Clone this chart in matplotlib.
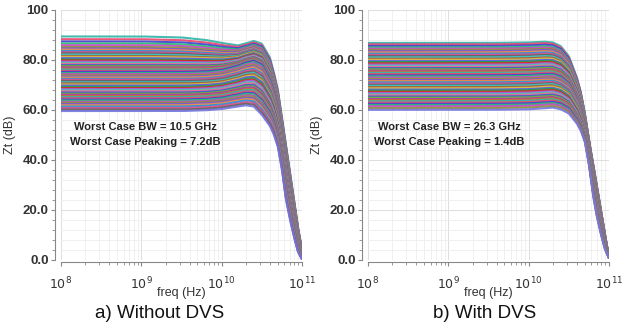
import numpy as np
import matplotlib
matplotlib.use("Agg")
import matplotlib.pyplot as plt
from matplotlib.ticker import FixedLocator, LogLocator, NullFormatter

plt.rcParams['font.family'] = ['Liberation Sans', 'DejaVu Sans']

# log10(frequency) nodes shared by the reference curves
log_f = [8.0, 9.0, 9.5, 9.8, 10.0, 10.2, 10.3, 10.4, 10.5, 10.6, 10.65, 10.7,
         10.75, 10.8, 10.85, 10.9, 10.95, 11.0]

# Panel a) Without DVS: reference curves (dB)
a_top = [89.4, 89.4, 89.0, 88.0, 86.8, 85.8, 86.6, 87.6, 86.5, 81.0, 75.0, 68.0,
         57.0, 46.0, 35.0, 24.0, 13.0, 4.0]
a_mid = [75.0, 75.0, 75.0, 75.2, 75.8, 77.5, 78.8, 79.5, 78.0, 72.0, 67.0, 60.0,
         50.0, 38.0, 28.0, 18.0, 9.0, 2.0]
a_bot = [59.5, 59.5, 59.5, 59.8, 60.3, 61.3, 61.8, 61.3, 58.0, 53.5, 50.0, 45.0,
         36.0, 24.0, 16.0, 9.0, 3.0, 0.0]
a_dc = [89.4, 88.3, 87.4, 86.6, 85.9, 85.2, 84.6, 84.1, 83.6, 83.1, 82.6, 82.1,
        81.6, 81.2, 80.7, 80.2, 79.8, 79.3, 78.8, 78.4, 77.9, 77.5, 77.0, 76.5,
        76.1, 75.6, 75.2, 74.7, 74.3, 73.8, 73.3, 72.9, 72.4, 72.0, 71.5, 71.0,
        70.6, 70.1, 69.7, 69.2, 68.7, 68.3, 67.8, 67.4, 66.9, 66.4, 66.0, 65.5,
        65.1, 64.6, 64.1, 63.7, 63.2, 62.8, 62.3, 61.8, 61.3, 60.7, 60.1, 59.5]

# Panel b) With DVS
b_top = [86.8, 86.8, 86.8, 86.9, 87.0, 87.3, 87.0, 85.5, 81.5, 73.0, 67.0, 58.5,
         48.0, 39.0, 29.5, 20.0, 10.0, 1.0]
b_mid = [73.0, 73.0, 73.0, 73.1, 73.2, 73.6, 73.6, 72.6, 70.0, 64.0, 59.5, 53.0,
         44.0, 33.0, 23.5, 15.0, 7.0, 0.8]
b_bot = [60.0, 60.0, 60.0, 60.1, 60.2, 60.6, 60.9, 60.2, 58.5, 54.5, 51.5, 47.0,
         38.0, 26.0, 17.0, 10.0, 4.0, 0.5]
b_dc = [86.8, 86.2, 85.6, 85.0, 84.5, 84.0, 83.5, 83.0, 82.5, 82.0, 81.5, 81.0,
        80.5, 80.0, 79.5, 79.1, 78.6, 78.1, 77.6, 77.2, 76.7, 76.2, 75.7, 75.3,
        74.8, 74.3, 73.8, 73.4, 72.9, 72.4, 71.9, 71.5, 71.0, 70.5, 70.0, 69.6,
        69.1, 68.6, 68.1, 67.7, 67.2, 66.7, 66.2, 65.8, 65.3, 64.8, 64.3, 63.9,
        63.4, 62.9, 62.4, 61.9, 61.4, 60.7, 60.0]

titles = ["a) Without DVS", "b) With DVS"]
notes = [["Worst Case BW = 10.5 GHz", "Worst Case Peaking = 7.2dB"],
         ["Worst Case BW = 26.3 GHz", "Worst Case Peaking = 1.4dB"]]
ytick_vals = [0, 20, 40, 60, 80, 100]
ytick_labels = ["0.0", "20.0", "40.0", "60.0", "80.0", "100"]
xtick_vals = [1e8, 1e9, 1e10, 1e11]
xtick_labels = [r"$10^8$", r"$10^9$", r"$10^{10}$", r"$10^{11}$"]

colors = ['#2fb3a8', '#e8456a', '#3f3fd0', '#25c070', '#c844c8', '#8c8c35',
          '#7a52d8', '#f08c3c', '#2590d8', '#d84a8c', '#606060', '#30c8c8',
          '#a85a30', '#d8c040', '#5555f0', '#22a045', '#d82525', '#9a62e0',
          '#40d0a0', '#f060a0', '#3060c0', '#70b030', '#b030b0', '#c07030']

fine = np.linspace(8.0, 11.0, 400)


def curve(dc, top, mid, bot):
    t_ = np.interp(fine, log_f, top)
    m_ = np.interp(fine, log_f, mid)
    b_ = np.interp(fine, log_f, bot)
    if dc >= mid[0]:
        w = (dc - mid[0]) / (top[0] - mid[0])
        return m_ + w * (t_ - m_)
    w = (dc - bot[0]) / (mid[0] - bot[0])
    return b_ + w * (m_ - b_)


fig = plt.figure(figsize=(6.36, 3.29), dpi=100)
panels = [(a_dc, a_top, a_mid, a_bot, 61), (b_dc, b_top, b_mid, b_bot, 368)]
note_x = [1.11e9, 1.02e9]
title_x = [160, 485]

for i, (dcs, top, mid, bot, x0) in enumerate(panels):
    ax = fig.add_axes([x0 / 636, 1 - 259.5 / 329, 241 / 636, 249.5 / 329])
    freq = 10 ** fine
    n = len(dcs)
    for k, dc in enumerate(dcs):
        if k == 0:
            c = '#2fb3a8'
        elif k == n - 1:
            c = '#7575e0'
        else:
            c = colors[k % len(colors)]
        ax.plot(freq, curve(dc, top, mid, bot), color=c, lw=1.5, alpha=0.9,
                solid_capstyle='butt')
    ax.set_xscale('log')
    ax.set_xlim(1e8, 1e11)
    ax.set_ylim(0, 100)
    ax.xaxis.set_major_locator(FixedLocator(xtick_vals))
    ax.set_xticklabels(xtick_labels)
    ax.xaxis.set_minor_locator(LogLocator(base=10, subs=np.arange(2, 10)))
    ax.xaxis.set_minor_formatter(NullFormatter())
    ax.yaxis.set_major_locator(FixedLocator(ytick_vals))
    ax.set_yticklabels(ytick_labels)
    ax.yaxis.set_minor_locator(FixedLocator(np.arange(0, 101, 4)))
    ax.grid(True, which='major', color='#dddddd', lw=0.7)
    ax.grid(True, which='minor', color='#eeeeee', lw=0.6)
    ax.set_axisbelow(True)
    for s in ['top', 'right']:
        ax.spines[s].set_visible(False)
    ax.spines['left'].set_position(('outward', 4))
    ax.spines['bottom'].set_position(('outward', 2))
    for s in ['left', 'bottom']:
        ax.spines[s].set_color('#888888')
        ax.spines[s].set_linewidth(0.8)
    ax.tick_params(axis='both', which='major', direction='out', length=3,
                   color='#888888', labelcolor='#333333')
    ax.tick_params(axis='both', which='minor', direction='out', length=2,
                   color='#888888')
    ax.tick_params(axis='x', labelsize=9, pad=7)
    ax.tick_params(axis='y', labelsize=9.5, pad=2)
    for lab in ax.get_yticklabels():
        lab.set_fontweight('bold')
    ax.set_xlabel("freq (Hz)", fontsize=9, color='#333333', labelpad=-4)
    ax.set_ylabel("Zt (dB)", fontsize=9, color='#333333', labelpad=5)
    ax.text(note_x[i], 53.1, notes[i][0], ha='center', va='center',
            fontsize=8, fontweight='bold', color='#222222')
    ax.text(note_x[i], 47.1, notes[i][1], ha='center', va='center',
            fontsize=8, fontweight='bold', color='#222222')
    fig.text(title_x[i] / 636, 1 - 314 / 329, titles[i], ha='center',
             va='center', fontsize=13.5, color='#111111')

fig.savefig("out.png", dpi=100)
